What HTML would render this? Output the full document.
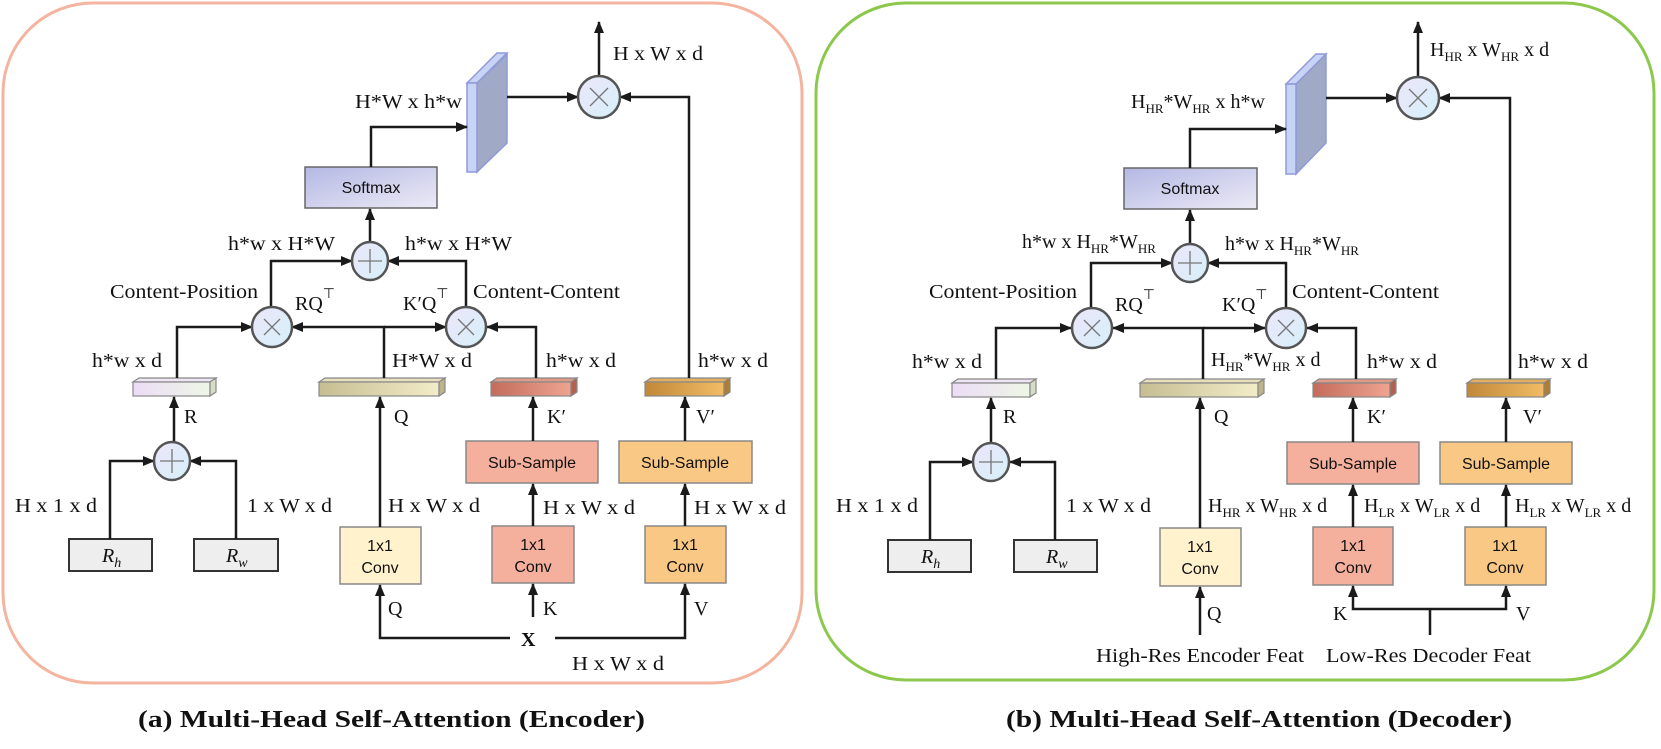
<!DOCTYPE html>
<html><head><meta charset="utf-8"><style>
html,body{margin:0;padding:0;background:#fff;}
svg{display:block;}
.t{font-family:"Liberation Serif",serif;font-size:20px;fill:#111;}
.s{font-family:"Liberation Sans",sans-serif;font-size:16px;fill:#111;text-anchor:middle;}
.ln{fill:none;stroke:#1a1a1a;stroke-width:2.5;}
.cap{font-family:"Liberation Serif",serif;font-size:24px;font-weight:bold;fill:#111;}
</style></head><body>
<svg width="1661" height="749" viewBox="0 0 1661 749" xmlns="http://www.w3.org/2000/svg">
<defs>
<marker id="a" markerUnits="userSpaceOnUse" markerWidth="12" markerHeight="10" refX="11" refY="5" orient="auto"><path d="M0,0 L12,5 L0,10 z" fill="#1a1a1a"/></marker>
<linearGradient id="cg" x1="0" y1="0" x2="1" y2="1"><stop offset="0" stop-color="#ece6fa"/><stop offset="1" stop-color="#d6f0fa"/></linearGradient>
<linearGradient id="sm" x1="0" y1="0" x2="1" y2="1"><stop offset="0" stop-color="#b4b8e4"/><stop offset="1" stop-color="#eceaf6"/></linearGradient>
<linearGradient id="gr" x1="0" y1="0" x2="1" y2="0"><stop offset="0" stop-color="#ecdcf6"/><stop offset="1" stop-color="#eef6e6"/></linearGradient>
<linearGradient id="gq" x1="0" y1="0" x2="1" y2="0"><stop offset="0" stop-color="#c6bd92"/><stop offset="1" stop-color="#f2ecc8"/></linearGradient>
<linearGradient id="gk" x1="0" y1="0" x2="1" y2="0"><stop offset="0" stop-color="#c46c5c"/><stop offset="1" stop-color="#eea490"/></linearGradient>
<linearGradient id="gv" x1="0" y1="0" x2="1" y2="0"><stop offset="0" stop-color="#c08838"/><stop offset="1" stop-color="#f2bc66"/></linearGradient>
</defs>

<!-- panels -->
<rect x="3" y="3" width="799" height="680" rx="90" fill="none" stroke="#f4b5a0" stroke-width="3"/>
<rect x="816" y="3" width="838" height="677" rx="90" fill="none" stroke="#8cc84b" stroke-width="3"/>

<!-- ================= LEFT ================= -->
<!-- slab -->
<polygon points="477,83 507,54 507,143 477,172" fill="#a0aac6" stroke="#8f9ad8" stroke-width="1.5"/>
<polygon points="467,83 497,53 507,53 477,83" fill="#c8d4f6" stroke="#8f9ad8" stroke-width="1.5"/>
<rect x="467" y="83" width="10" height="89" fill="#c8d4f6" stroke="#8f9ad8" stroke-width="1.5"/>
<!-- softmax -->
<rect x="305" y="167" width="132" height="41" fill="url(#sm)" stroke="#666" stroke-width="1.5"/>
<text class="s" x="371" y="193">Softmax</text>
<!-- bars -->
<g stroke="#888" stroke-width="1.2">
<polygon points="133,382 139,378 216,378 210,382" fill="#eee6f4"/><rect x="133" y="382" width="77" height="14" fill="url(#gr)"/><polygon points="210,382 216,378 216,392 210,396" fill="#d6dcc6"/>
<polygon points="319,382 325,378 445,378 439,382" fill="#e8e0bc"/><rect x="319" y="382" width="120" height="14" fill="url(#gq)"/><polygon points="439,382 445,378 445,392 439,396" fill="#bdb48c"/>
<polygon points="491,382 497,378 577,378 571,382" fill="#e09a88"/><rect x="491" y="382" width="80" height="14" fill="url(#gk)"/><polygon points="571,382 577,378 577,392 571,396" fill="#b46050"/>
<polygon points="645,382 651,378 730,378 724,382" fill="#e4b060"/><rect x="645" y="382" width="79" height="14" fill="url(#gv)"/><polygon points="724,382 730,378 730,392 724,396" fill="#b07c30"/>
</g>
<!-- boxes -->
<rect x="69" y="539" width="83" height="32" fill="#eeeeee" stroke="#333" stroke-width="2"/>
<text x="102" y="562" class="t" font-style="italic" font-size="22">R<tspan font-size="14" dy="5">h</tspan></text>
<rect x="194" y="539" width="84" height="32" fill="#eeeeee" stroke="#333" stroke-width="2"/>
<text x="226" y="562" class="t" font-style="italic" font-size="22">R<tspan font-size="14" dy="5">w</tspan></text>
<rect x="340" y="527" width="81" height="57" fill="#fff2cc" stroke="#888" stroke-width="1.5"/>
<text class="s" x="380" y="551">1x1</text><text class="s" x="380" y="573">Conv</text>
<rect x="492" y="526" width="82" height="57" fill="#f4b09c" stroke="#888" stroke-width="1.5"/>
<text class="s" x="533" y="550">1x1</text><text class="s" x="533" y="572">Conv</text>
<rect x="645" y="526" width="81" height="57" fill="#f9c884" stroke="#888" stroke-width="1.5"/>
<text class="s" x="685" y="550">1x1</text><text class="s" x="685" y="572">Conv</text>
<rect x="466" y="441" width="132" height="42" fill="#f4b09c" stroke="#888" stroke-width="1.5"/>
<text class="s" x="532" y="468">Sub-Sample</text>
<rect x="619" y="441" width="133" height="42" fill="#f9c884" stroke="#888" stroke-width="1.5"/>
<text class="s" x="685" y="468">Sub-Sample</text>
<!-- connectors -->
<g class="ln">
<path d="M599,76 V22" marker-end="url(#a)"/>
<path d="M507,97 H578" marker-end="url(#a)"/>
<path d="M689,378 V97 H620" marker-end="url(#a)"/>
<path d="M371,167 V127 H467" marker-end="url(#a)"/>
<path d="M370,243 V209" marker-end="url(#a)"/>
<path d="M271,307 V261 H352" marker-end="url(#a)"/>
<path d="M466,307 V261 H388" marker-end="url(#a)"/>
<path d="M177,378 V327 H252" marker-end="url(#a)"/>
<path d="M384,378 V327 H292" marker-end="url(#a)"/>
<path d="M384,327 H446" marker-end="url(#a)"/>
<path d="M536,378 V327 H487" marker-end="url(#a)"/>
<path d="M174,443 V397" marker-end="url(#a)"/>
<path d="M110,539 V461 H154" marker-end="url(#a)"/>
<path d="M236,539 V461 H190" marker-end="url(#a)"/>
<path d="M380,527 V397" marker-end="url(#a)"/>
<path d="M533,526 V484" marker-end="url(#a)"/>
<path d="M533,441 V397" marker-end="url(#a)"/>
<path d="M685,526 V484" marker-end="url(#a)"/>
<path d="M685,441 V397" marker-end="url(#a)"/>
<path d="M510,638 H380 V585" marker-end="url(#a)"/>
<path d="M555,638 H685 V584" marker-end="url(#a)"/>
<path d="M533,617 V584" marker-end="url(#a)"/>
</g>
<!-- circles -->
<g stroke="#555" stroke-width="2.5" fill="url(#cg)">
<circle cx="599" cy="97" r="21"/>
<ellipse cx="370" cy="261" rx="18" ry="19"/>
<circle cx="272" cy="327" r="20"/>
<circle cx="466" cy="327" r="20"/>
<ellipse cx="172" cy="461" rx="18" ry="19"/>
</g>
<g stroke="#777" stroke-width="1.3">
<path d="M590,88 L608,106 M608,88 L590,106"/>
<path d="M264,319 L280,335 M280,319 L264,335"/>
<path d="M458,319 L474,335 M474,319 L458,335"/>
<path d="M370,249 V273 M358,261 H382"/>
<path d="M172,449 V473 M160,461 H184"/>
</g>
<!-- labels -->
<text class="t" x="613" y="60" textLength="90" lengthAdjust="spacingAndGlyphs">H x W x d</text>
<text class="t" x="355" y="108" textLength="107" lengthAdjust="spacingAndGlyphs">H*W x h*w</text>
<text class="t" x="228" y="250" textLength="107" lengthAdjust="spacingAndGlyphs">h*w x H*W</text>
<text class="t" x="405" y="250" textLength="107" lengthAdjust="spacingAndGlyphs">h*w x H*W</text>
<text class="t" x="110" y="298" textLength="148" lengthAdjust="spacingAndGlyphs">Content-Position</text>
<text class="t" x="473" y="298" textLength="147" lengthAdjust="spacingAndGlyphs">Content-Content</text>
<text class="t" x="295" y="310" font-size="23">RQ<tspan font-size="14" dy="-12">⊤</tspan></text>
<text class="t" x="403" y="310" font-size="23">K′Q<tspan font-size="14" dy="-12">⊤</tspan></text>
<text class="t" x="92" y="367" textLength="70" lengthAdjust="spacingAndGlyphs">h*w x d</text>
<text class="t" x="392" y="367" textLength="80" lengthAdjust="spacingAndGlyphs">H*W x d</text>
<text class="t" x="546" y="367" textLength="70" lengthAdjust="spacingAndGlyphs">h*w x d</text>
<text class="t" x="698" y="367" textLength="70" lengthAdjust="spacingAndGlyphs">h*w x d</text>
<text class="t" x="184" y="423">R</text>
<text class="t" x="394" y="423">Q</text>
<text class="t" x="547" y="423" font-size="23">K′</text>
<text class="t" x="696" y="423" font-size="23">V′</text>
<text class="t" x="15" y="512" textLength="82" lengthAdjust="spacingAndGlyphs">H x 1 x d</text>
<text class="t" x="247" y="512" textLength="85" lengthAdjust="spacingAndGlyphs">1 x W x d</text>
<text class="t" x="388" y="512" textLength="92" lengthAdjust="spacingAndGlyphs">H x W x d</text>
<text class="t" x="543" y="514" textLength="92" lengthAdjust="spacingAndGlyphs">H x W x d</text>
<text class="t" x="694" y="514" textLength="92" lengthAdjust="spacingAndGlyphs">H x W x d</text>
<text class="t" x="388" y="615">Q</text>
<text class="t" x="543" y="615">K</text>
<text class="t" x="694" y="615">V</text>
<text class="t" x="521" y="646" font-weight="bold" font-size="24">X</text>
<text class="t" x="572" y="670" textLength="92" lengthAdjust="spacingAndGlyphs">H x W x d</text>

<!-- ================= RIGHT ================= -->
<polygon points="1296,84 1326,54 1326,143 1296,174" fill="#a0aac6" stroke="#8f9ad8" stroke-width="1.5"/>
<polygon points="1286,84 1316,54 1326,54 1296,84" fill="#c8d4f6" stroke="#8f9ad8" stroke-width="1.5"/>
<rect x="1286" y="84" width="10" height="90" fill="#c8d4f6" stroke="#8f9ad8" stroke-width="1.5"/>
<rect x="1124" y="168" width="133" height="41" fill="url(#sm)" stroke="#666" stroke-width="1.5"/>
<text class="s" x="1190" y="194">Softmax</text>
<g stroke="#888" stroke-width="1.2">
<polygon points="952,383 958,379 1036,379 1030,383" fill="#eee6f4"/><rect x="952" y="383" width="78" height="14" fill="url(#gr)"/><polygon points="1030,383 1036,379 1036,393 1030,397" fill="#d6dcc6"/>
<polygon points="1140,383 1146,379 1264,379 1258,383" fill="#e8e0bc"/><rect x="1140" y="383" width="118" height="14" fill="url(#gq)"/><polygon points="1258,383 1264,379 1264,393 1258,397" fill="#bdb48c"/>
<polygon points="1313,383 1319,379 1396,379 1390,383" fill="#e09a88"/><rect x="1313" y="383" width="77" height="14" fill="url(#gk)"/><polygon points="1390,383 1396,379 1396,393 1390,397" fill="#b46050"/>
<polygon points="1467,383 1473,379 1550,379 1544,383" fill="#e4b060"/><rect x="1467" y="383" width="77" height="14" fill="url(#gv)"/><polygon points="1544,383 1550,379 1550,393 1544,397" fill="#b07c30"/>
</g>
<rect x="888" y="540" width="83" height="32" fill="#eeeeee" stroke="#333" stroke-width="2"/>
<text x="921" y="563" class="t" font-style="italic" font-size="22">R<tspan font-size="14" dy="5">h</tspan></text>
<rect x="1014" y="540" width="83" height="32" fill="#eeeeee" stroke="#333" stroke-width="2"/>
<text x="1046" y="563" class="t" font-style="italic" font-size="22">R<tspan font-size="14" dy="5">w</tspan></text>
<rect x="1160" y="528" width="81" height="58" fill="#fff2cc" stroke="#888" stroke-width="1.5"/>
<text class="s" x="1200" y="552">1x1</text><text class="s" x="1200" y="574">Conv</text>
<rect x="1313" y="527" width="80" height="58" fill="#f4b09c" stroke="#888" stroke-width="1.5"/>
<text class="s" x="1353" y="551">1x1</text><text class="s" x="1353" y="573">Conv</text>
<rect x="1465" y="527" width="81" height="58" fill="#f9c884" stroke="#888" stroke-width="1.5"/>
<text class="s" x="1505" y="551">1x1</text><text class="s" x="1505" y="573">Conv</text>
<rect x="1287" y="442" width="132" height="42" fill="#f4b09c" stroke="#888" stroke-width="1.5"/>
<text class="s" x="1353" y="469">Sub-Sample</text>
<rect x="1440" y="442" width="132" height="42" fill="#f9c884" stroke="#888" stroke-width="1.5"/>
<text class="s" x="1506" y="469">Sub-Sample</text>
<g class="ln">
<path d="M1418,77 V22" marker-end="url(#a)"/>
<path d="M1326,98 H1397" marker-end="url(#a)"/>
<path d="M1510,379 V98 H1439" marker-end="url(#a)"/>
<path d="M1190,168 V129 H1286" marker-end="url(#a)"/>
<path d="M1190,245 V210" marker-end="url(#a)"/>
<path d="M1091,308 V263 H1172" marker-end="url(#a)"/>
<path d="M1286,308 V263 H1208" marker-end="url(#a)"/>
<path d="M996,379 V328 H1071" marker-end="url(#a)"/>
<path d="M1203,379 V328 H1113" marker-end="url(#a)"/>
<path d="M1203,328 H1265" marker-end="url(#a)"/>
<path d="M1356,379 V328 H1307" marker-end="url(#a)"/>
<path d="M991,444 V398" marker-end="url(#a)"/>
<path d="M930,540 V462 H973" marker-end="url(#a)"/>
<path d="M1055,540 V462 H1010" marker-end="url(#a)"/>
<path d="M1200,528 V398" marker-end="url(#a)"/>
<path d="M1353,527 V485" marker-end="url(#a)"/>
<path d="M1353,442 V398" marker-end="url(#a)"/>
<path d="M1506,527 V485" marker-end="url(#a)"/>
<path d="M1506,442 V398" marker-end="url(#a)"/>
<path d="M1200,635 V587" marker-end="url(#a)"/>
<path d="M1430,635 V609"/>
<path d="M1430,609 H1353 V586" marker-end="url(#a)"/>
<path d="M1430,609 H1506 V586" marker-end="url(#a)"/>
</g>
<g stroke="#555" stroke-width="2.5" fill="url(#cg)">
<circle cx="1418" cy="98" r="21"/>
<ellipse cx="1190" cy="263" rx="18" ry="19"/>
<circle cx="1092" cy="328" r="20"/>
<circle cx="1286" cy="328" r="20"/>
<ellipse cx="991" cy="462" rx="18" ry="19"/>
</g>
<g stroke="#777" stroke-width="1.3">
<path d="M1409,89 L1427,107 M1427,89 L1409,107"/>
<path d="M1084,320 L1100,336 M1100,320 L1084,336"/>
<path d="M1278,320 L1294,336 M1294,320 L1278,336"/>
<path d="M1190,251 V275 M1178,263 H1202"/>
<path d="M991,450 V474 M979,462 H1003"/>
</g>
<text class="t" x="1430" y="56">H<tspan font-size="13" dy="5">HR</tspan><tspan dy="-5"> x W</tspan><tspan font-size="13" dy="5">HR</tspan><tspan dy="-5"> x d</tspan></text>
<text class="t" x="1131" y="108">H<tspan font-size="13" dy="5">HR</tspan><tspan dy="-5">*W</tspan><tspan font-size="13" dy="5">HR</tspan><tspan dy="-5"> x h*w</tspan></text>
<text class="t" x="1022" y="248">h*w x H<tspan font-size="13" dy="5">HR</tspan><tspan dy="-5">*W</tspan><tspan font-size="13" dy="5">HR</tspan></text>
<text class="t" x="1225" y="250">h*w x H<tspan font-size="13" dy="5">HR</tspan><tspan dy="-5">*W</tspan><tspan font-size="13" dy="5">HR</tspan></text>
<text class="t" x="929" y="298" textLength="148" lengthAdjust="spacingAndGlyphs">Content-Position</text>
<text class="t" x="1292" y="298" textLength="147" lengthAdjust="spacingAndGlyphs">Content-Content</text>
<text class="t" x="1115" y="311" font-size="23">RQ<tspan font-size="14" dy="-12">⊤</tspan></text>
<text class="t" x="1222" y="311" font-size="23">K′Q<tspan font-size="14" dy="-12">⊤</tspan></text>
<text class="t" x="912" y="368" textLength="70" lengthAdjust="spacingAndGlyphs">h*w x d</text>
<text class="t" x="1211" y="366">H<tspan font-size="13" dy="5">HR</tspan><tspan dy="-5">*W</tspan><tspan font-size="13" dy="5">HR</tspan><tspan dy="-5"> x d</tspan></text>
<text class="t" x="1367" y="368" textLength="70" lengthAdjust="spacingAndGlyphs">h*w x d</text>
<text class="t" x="1518" y="368" textLength="70" lengthAdjust="spacingAndGlyphs">h*w x d</text>
<text class="t" x="1003" y="423">R</text>
<text class="t" x="1214" y="423">Q</text>
<text class="t" x="1367" y="423" font-size="23">K′</text>
<text class="t" x="1523" y="423" font-size="23">V′</text>
<text class="t" x="836" y="512" textLength="82" lengthAdjust="spacingAndGlyphs">H x 1 x d</text>
<text class="t" x="1066" y="512" textLength="85" lengthAdjust="spacingAndGlyphs">1 x W x d</text>
<text class="t" x="1208" y="512">H<tspan font-size="13" dy="5">HR</tspan><tspan dy="-5"> x W</tspan><tspan font-size="13" dy="5">HR</tspan><tspan dy="-5"> x d</tspan></text>
<text class="t" x="1364" y="512">H<tspan font-size="13" dy="5">LR</tspan><tspan dy="-5"> x W</tspan><tspan font-size="13" dy="5">LR</tspan><tspan dy="-5"> x d</tspan></text>
<text class="t" x="1515" y="512">H<tspan font-size="13" dy="5">LR</tspan><tspan dy="-5"> x W</tspan><tspan font-size="13" dy="5">LR</tspan><tspan dy="-5"> x d</tspan></text>
<text class="t" x="1207" y="620">Q</text>
<text class="t" x="1333" y="620">K</text>
<text class="t" x="1516" y="620">V</text>
<text class="t" x="1096" y="662" textLength="208" lengthAdjust="spacingAndGlyphs">High-Res Encoder Feat</text>
<text class="t" x="1326" y="662" textLength="205" lengthAdjust="spacingAndGlyphs">Low-Res Decoder Feat</text>

<!-- captions -->
<text class="cap" x="138" y="727" textLength="507" lengthAdjust="spacingAndGlyphs">(a) Multi-Head Self-Attention (Encoder)</text>
<text class="cap" x="1006" y="727" textLength="506" lengthAdjust="spacingAndGlyphs">(b) Multi-Head Self-Attention (Decoder)</text>
</svg>
</body></html>
